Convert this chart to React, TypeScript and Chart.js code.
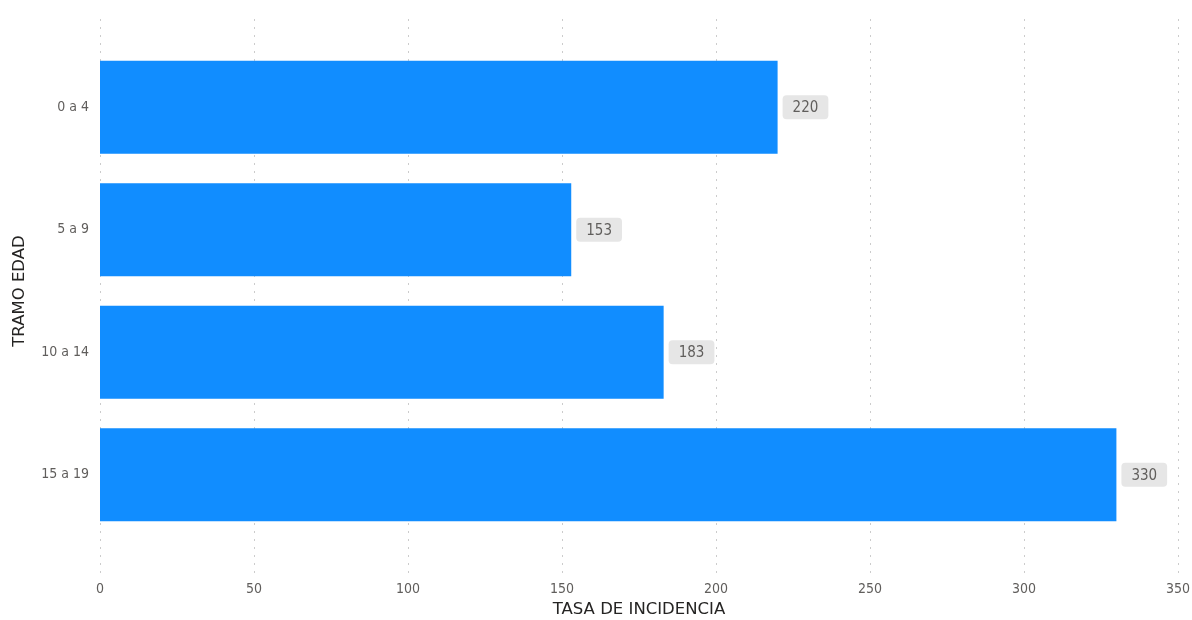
import React, { useEffect, useRef } from "react";
import { Chart, registerables } from "chart.js";

Chart.register(...registerables);

const categories = ["0 a 4", "5 a 9", "10 a 14", "15 a 19"];
const values = [220, 153, 183, 330];
const xTicks = [0, 50, 100, 150, 200, 250, 300, 350];

const FONT = "'DejaVu Sans', sans-serif";
const COND_FONT = "'DejaVu Sans Condensed', 'DejaVu Sans', sans-serif";

const gridPlugin = {
  id: "dottedGrid",
  beforeDatasetsDraw(chart: any) {
    const { ctx, chartArea, scales } = chart;
    const x = scales.x;
    ctx.save();
    ctx.strokeStyle = "#CCCCCC";
    ctx.lineWidth = 1;
    ctx.setLineDash([2, 6]);
    for (const t of xTicks) {
      const px = Math.round(x.getPixelForValue(t)) + 0.5;
      ctx.beginPath();
      ctx.moveTo(px, chartArea.top - 27);
      ctx.lineTo(px, chartArea.bottom + 38);
      ctx.stroke();
    }
    ctx.restore();
  },
};

const labelPlugin = {
  id: "valueLabels",
  afterDatasetsDraw(chart: any) {
    const { ctx } = chart;
    const meta = chart.getDatasetMeta(0);
    ctx.save();
    ctx.font = `15px ${COND_FONT}`;
    ctx.textAlign = "center";
    ctx.textBaseline = "middle";
    meta.data.forEach((bar: any, i: number) => {
      const text = String(values[i]);
      const w = ctx.measureText(text).width + 20;
      const h = 24;
      const left = bar.x + 5;
      const top = bar.y - h / 2;
      ctx.fillStyle = "#E6E6E6";
      ctx.beginPath();
      (ctx as any).roundRect(left, top, w, h, 4);
      ctx.fill();
      ctx.fillStyle = "#605E5C";
      ctx.fillText(text, left + w / 2, bar.y + 1);
    });
    ctx.restore();
  },
};

export default function App() {
  const ref = useRef<HTMLCanvasElement>(null);
  useEffect(() => {
    if (!ref.current) return;
    const chart = new Chart(ref.current, {
      type: "bar",
      data: {
        labels: categories,
        datasets: [
          {
            data: values,
            backgroundColor: "#118DFF",
            borderWidth: 0,
            categoryPercentage: 1,
            barPercentage: 0.76,
          },
        ],
      },
      options: {
        indexAxis: "y",
        animation: false,
        responsive: false,
        maintainAspectRatio: false,
        layout: { padding: { top: 46, right: 14, left: 0, bottom: 0 } },
        plugins: { legend: { display: false }, tooltip: { enabled: false } },
        scales: {
          x: {
            min: 0,
            max: 350,
            afterBuildTicks: (s: any) => {
              s.ticks = xTicks.map((v) => ({ value: v }));
            },
            afterFit: (s: any) => {
              s.height = 84;
              s.paddingLeft = 0;
              s.paddingRight = 0;
            },
            grid: { display: false, drawTicks: false },
            border: { display: false },
            ticks: {
              color: "#605E5C",
              font: { family: COND_FONT, size: 14 },
              padding: 45,
              maxRotation: 0,
            },
            title: {
              display: true,
              text: "TASA DE INCIDENCIA",
              color: "#252423",
              font: { family: FONT, size: 16.5 },
              padding: { top: 0, bottom: 0 },
            },
          },
          y: {
            afterFit: (s: any) => {
              s.width = 100;
            },
            grid: { display: false, drawTicks: false },
            border: { display: false },
            ticks: {
              color: "#605E5C",
              font: { family: COND_FONT, size: 14 },
              padding: 11,
            },
            title: {
              display: true,
              text: "TRAMO EDAD",
              color: "#252423",
              font: { family: FONT, size: 16.5 },
              padding: { top: 10, bottom: 0 },
            },
          },
        },
      },
      plugins: [gridPlugin, labelPlugin],
    });
    return () => chart.destroy();
  }, []);
  return (
    <div style={{ position: "absolute", left: 0, top: 0, width: 1192, height: 620, background: "#fff" }}>
      <canvas ref={ref} width={1192} height={620} style={{ display: "block" }} />
    </div>
  );
}
